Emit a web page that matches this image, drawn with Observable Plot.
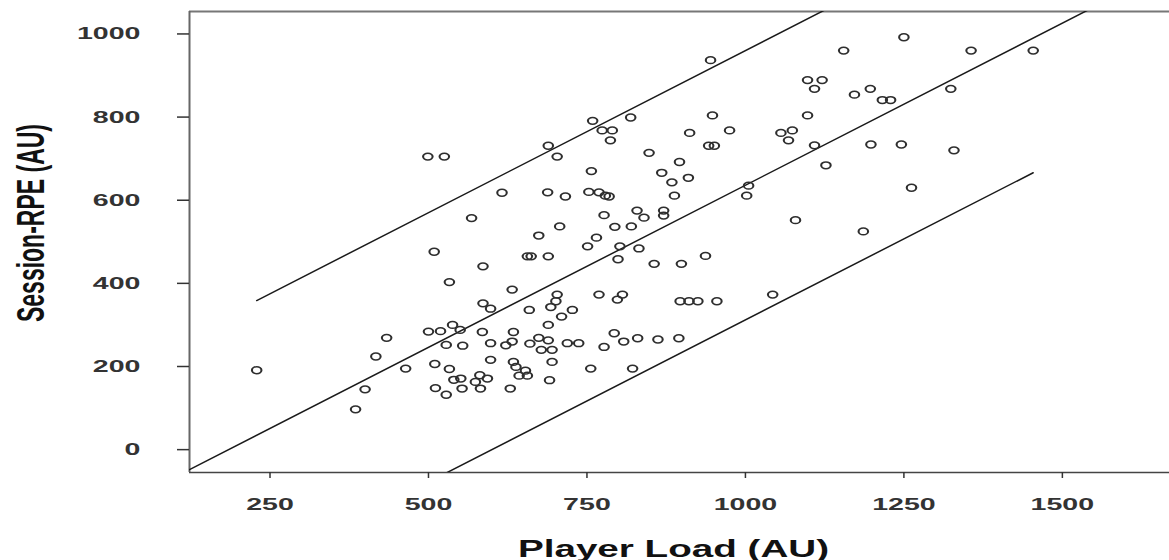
<!DOCTYPE html>
<html><head><meta charset="utf-8">
<script src="https://cdn.jsdelivr.net/npm/d3@7"></script>
<script src="https://cdn.jsdelivr.net/npm/@observablehq/plot@0.6"></script>
<style>
html,body{margin:0;padding:0;background:#fff;}
#chart svg{display:block;}
</style>
</head><body><div id="chart"></div>
<script>
// Player Load (AU) for each session
const playerLoad = [
  229,385,400,417,434,464,500,519,538,550,
  528,554,510,533,540,551,511,528,553,533,
  499,525,509,568,586,632,586,598,659,703,
  701,693,727,710,689,585,634,598,622,632,
  660,674,689,678,695,719,737,598,634,638,
  653,643,656,695,756,822,581,593,574,582,
  629,691,769,798,806,793,808,830,777,862,
  895,897,911,925,955,1043,799,856,899,937,
  832,656,662,689,751,802,674,765,707,794,
  820,777,829,840,871,871,616,688,716,753,
  769,779,785,888,1002,1005,1079,757,868,884,
  910,896,848,689,703,759,819,774,790,787,
  945,948,912,975,942,951,1056,1074,1068,1098,
  1098,1121,1109,1155,1172,1197,1216,1229,1250,1324,
  1356,1454,1109,1127,1198,1246,1329,1262,1186
];
// Session-RPE (AU) for each session
const sessionRPE = [
  191,97,145,224,269,195,284,285,300,288,
  252,250,206,194,168,171,148,132,147,403,
  705,705,476,557,441,385,352,339,336,373,
  357,343,336,320,300,283,283,256,251,260,
  255,269,263,240,240,256,256,216,211,199,
  190,178,178,211,195,195,179,171,163,147,
  147,167,373,361,373,280,260,268,247,265,
  268,357,357,357,357,373,458,447,447,466,
  484,465,465,465,489,489,515,510,537,536,
  537,564,575,558,575,563,618,619,609,620,
  619,611,609,611,611,635,552,670,666,643,
  654,692,714,731,705,791,799,768,768,744,
  937,804,762,768,731,731,762,768,744,804,
  889,889,868,960,854,868,841,841,992,868,
  960,960,732,684,734,734,720,630,525
];
const xTicks = [250, 500, 750, 1000, 1250, 1500];
const yTicks = [0, 200, 400, 600, 800, 1000];
const xDomain = [123, 1669];
const yDomain = [-55, 1054];
// regression line and 95% limits
const fitSlope = 0.78;
const fitIntercept = -144;
const limitHalfWidth = 324;
const xLabel = "Player Load (AU)";
const yLabel = "Session-RPE (AU)";

const points = playerLoad.map((x, i) => ({load: x, rpe: sessionRPE[i]}));
const loMin = d3.min(playerLoad), loMax = d3.max(playerLoad);
const lineRows = [];
const addLine = (k, off, x0, x1) => {
  for (const x of [x0, x1]) lineRows.push({k, x, y: fitSlope * x + fitIntercept + off});
};
addLine("fit", 0, xDomain[0], xDomain[1]);
addLine("upper", limitHalfWidth, loMin, loMax);
addLine("lower", -limitHalfWidth, loMin, loMax);

const S = 1.68; // horizontal stretch of the original figure

const chart = Plot.plot({
  width: 1169, height: 560,
  marginLeft: 189, marginRight: 0, marginTop: 11, marginBottom: 88,
  x: {domain: xDomain},
  y: {domain: yDomain},
  style: {fontFamily: '"Liberation Sans", Arial, sans-serif', fontSize: "17px", color: "#222", background: "#fff", overflow: "visible"},
  marks: [
    Plot.ruleY([yDomain[1]], {stroke: "#777", strokeWidth: 2}),
    Plot.ruleX([xDomain[0]], {stroke: "#666", strokeWidth: 2}),
    Plot.ruleY([yDomain[0]], {stroke: "#444", strokeWidth: 1.6}),
    Plot.line(lineRows, {x: "x", y: "y", z: "k", stroke: "#1a1a1a", strokeWidth: 1.5, clip: true}),
    Plot.dot(points, {x: "load", y: "rpe", r: 3.4, stroke: "#2e2e2e", strokeWidth: 1.5, fill: "none"}),
    Plot.axisX(xTicks, {tickSize: 6, tickPadding: 19, tickFormat: d => String(d), label: null, stroke: "#333", strokeWidth: 1.5, fill: "#333", fontWeight: "bold"}),
    Plot.axisY(yTicks, {tickSize: 12, tickPadding: 37, tickFormat: d => String(d), label: null, stroke: "#333", strokeWidth: 1.5, fill: "#333", fontWeight: "bold"}),
    Plot.text([xLabel], {text: d => d, frameAnchor: "bottom", textAnchor: "middle", dy: 84, dx: -6, fontWeight: "bold", fontSize: 23, fill: "#111"}),
    Plot.text([yLabel], {text: d => d, frameAnchor: "left", textAnchor: "middle", dx: -158, dy: -19, rotate: -90, fontWeight: "bold", fontSize: 23, fill: "#111"})
  ]
});
document.getElementById("chart").appendChild(chart);

function stretch(t, scale) {
  const x = t.getAttribute("x");
  let tr = t.getAttribute("transform") || "";
  if (x !== null && !isNaN(+x)) { tr = `translate(${x},0) ` + tr; t.removeAttribute("x"); }
  t.setAttribute("transform", tr + " " + scale);
}
chart.querySelectorAll('g[aria-label="x-axis tick label"] text, g[aria-label="y-axis tick label"] text')
  .forEach(t => stretch(t, `scale(${S},1)`));
chart.querySelectorAll('text').forEach(t => {
  if (t.textContent === xLabel) stretch(t, `scale(${S},1)`);
  else if (t.textContent === yLabel) stretch(t, `scale(1,${S})`);
});
chart.querySelectorAll('g[aria-label="dot"] circle').forEach(c => {
  const cx = +c.getAttribute("cx"), cy = +c.getAttribute("cy");
  if (c.hasAttribute("cx")) c.setAttribute("transform", `translate(${cx},${cy}) scale(1.4,1) translate(${-cx},${-cy})`);
  else c.setAttribute("transform", (c.getAttribute("transform") || "") + " scale(1.4,1)");
});
</script>
</body></html>
